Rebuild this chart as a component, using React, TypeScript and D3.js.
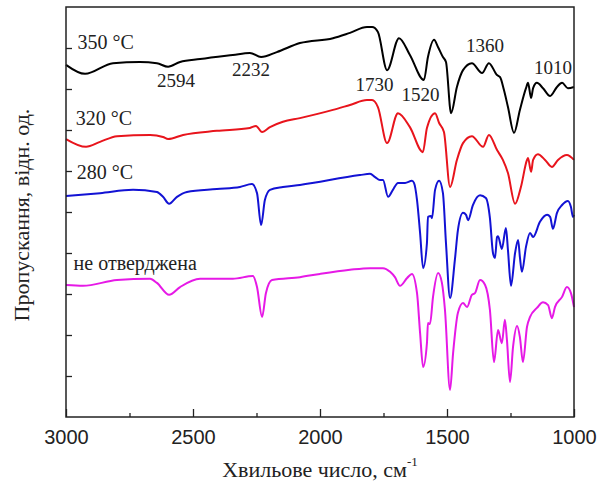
import { useEffect, useRef } from 'react';
import * as d3 from 'd3';

// wavenumber (cm-1) and transmittance in arbitrary units (0..100 over the frame)
const cured350 = [
  [3000, 85.9], [2925, 83.7], [2815, 86.3], [2709, 86.6], [2642, 86.3], [2598, 85.4],
  [2551, 86.6], [2472, 87.3], [2343, 88.3], [2276, 88.8], [2232, 87.8], [2170, 89.0],
  [2079, 91.2], [1949, 92.4], [1882, 93.7], [1815, 95.1], [1795, 95.1], [1772, 93.9],
  [1736, 84.6], [1689, 92.4], [1646, 88.3], [1591, 82.2], [1575, 87.8], [1551, 92.0],
  [1535, 90.2], [1516, 87.8], [1504, 86.6], [1484, 74.1], [1461, 80.5], [1437, 84.6],
  [1402, 86.3], [1362, 83.9], [1335, 86.3], [1303, 83.4], [1291, 82.9], [1276, 79.8],
  [1260, 75.6], [1236, 69.3], [1213, 74.9], [1189, 80.2], [1181, 81.5], [1169, 77.8],
  [1161, 80.2], [1146, 81.5], [1122, 80.2], [1094, 78.3], [1067, 80.5], [1047, 81.5],
  [1024, 80.2], [1000, 80.5],
];

const cured320 = [
  [3000, 67.8], [2921, 65.9], [2866, 67.1], [2799, 68.5], [2669, 68.8], [2618, 68.3],
  [2598, 67.8], [2539, 68.8], [2406, 69.8], [2276, 70.5], [2252, 71.0], [2228, 69.5],
  [2197, 70.7], [2146, 72.0], [2079, 72.9], [1949, 74.9], [1882, 76.1], [1815, 77.3],
  [1795, 77.3], [1772, 75.6], [1736, 66.8], [1693, 74.1], [1646, 70.7], [1595, 64.6],
  [1579, 70.5], [1547, 74.1], [1531, 71.7], [1512, 69.5], [1488, 56.1], [1461, 62.7],
  [1437, 66.8], [1402, 68.5], [1358, 65.9], [1335, 68.8], [1303, 65.1], [1280, 62.7],
  [1260, 59.5], [1232, 52.0], [1209, 56.1], [1185, 62.7], [1181, 63.2], [1169, 59.8],
  [1161, 62.7], [1142, 64.1], [1114, 62.7], [1087, 61.0], [1063, 62.7], [1028, 63.9],
  [1000, 62.7],
];

const cured280 = [
  [3000, 53.9], [2866, 54.6], [2736, 55.4], [2642, 54.9], [2618, 53.7], [2594, 52.0],
  [2563, 53.7], [2524, 54.9], [2406, 55.6], [2315, 56.1], [2268, 56.8], [2248, 54.6],
  [2232, 46.8], [2217, 52.9], [2197, 55.4], [2146, 56.1], [2079, 56.6], [1843, 59.0],
  [1803, 59.3], [1783, 58.5], [1764, 57.8], [1752, 57.8], [1732, 53.7], [1713, 55.4],
  [1693, 57.1], [1665, 57.1], [1638, 57.6], [1630, 57.1], [1618, 52.9], [1606, 44.9],
  [1594, 36.3], [1579, 42.4], [1575, 48.8], [1563, 49.0], [1559, 48.5], [1547, 55.4],
  [1531, 57.6], [1516, 54.6], [1504, 42.4], [1488, 29.0], [1469, 38.3], [1457, 45.6],
  [1437, 49.8], [1425, 49.3], [1417, 48.0], [1398, 51.7], [1370, 54.1], [1347, 53.4],
  [1331, 48.5], [1319, 40.0], [1311, 38.8], [1303, 43.9], [1299, 44.1], [1284, 41.0],
  [1268, 46.1], [1260, 40.7], [1248, 32.0], [1232, 40.0], [1220, 43.2], [1213, 39.0],
  [1205, 35.4], [1189, 41.5], [1173, 44.9], [1161, 43.9], [1134, 47.6], [1106, 49.3],
  [1094, 48.8], [1083, 45.9], [1067, 49.8], [1047, 51.7], [1024, 52.7], [1012, 51.2],
  [1004, 48.8], [1000, 49.3],
];

const uncured = [
  [3000, 32.2], [2933, 32.0], [2799, 33.4], [2669, 33.7], [2642, 32.7], [2594, 29.8],
  [2551, 31.7], [2472, 33.7], [2343, 33.7], [2264, 34.4], [2248, 31.7], [2228, 24.4],
  [2213, 30.2], [2189, 33.4], [2079, 34.1], [2000, 34.9], [1882, 35.9], [1803, 36.3],
  [1752, 36.3], [1724, 35.4], [1705, 34.1], [1685, 32.0], [1657, 33.9], [1638, 34.9],
  [1618, 30.2], [1606, 20.5], [1594, 12.2], [1579, 18.0], [1575, 22.9], [1567, 22.7],
  [1555, 29.3], [1535, 35.1], [1520, 32.7], [1508, 26.1], [1488, 6.6], [1476, 15.6],
  [1457, 25.4], [1437, 27.8], [1421, 26.8], [1402, 29.8], [1390, 30.2], [1370, 33.4],
  [1350, 32.2], [1331, 26.1], [1315, 13.4], [1299, 21.2], [1284, 18.0], [1272, 23.7],
  [1264, 18.8], [1252, 8.5], [1240, 17.1], [1224, 22.2], [1213, 19.5], [1201, 13.4],
  [1185, 22.0], [1173, 24.4], [1146, 26.6], [1122, 28.0], [1102, 27.3], [1087, 24.1],
  [1075, 26.8], [1047, 29.3], [1028, 31.7], [1012, 30.2], [1000, 26.8],
];

const seriesNames = ['350 °C', '320 °C', '280 °C', 'не отверджена'];
const seriesData = [cured350, cured320, cured280, uncured];
const seriesColors = ['#000000', '#e8141c', '#1212d4', '#e619e6'];
// where each curve's name sits, in data units
const seriesLabelPos = [[2955, 89.8], [2962, 71.2], [2958, 58.0], [2970, 35.8]];

const peakLabels = ['2594', '2232', '1730', '1520', '1360', '1010'];
const peakLabelPos = [[2567, 80.5], [2272, 83.2], [1785, 79.5], [1604, 77.1], [1350, 89.0], [1083, 83.7]];

const majorTicks = [3000, 2500, 2000, 1500, 1000];
const minorTicks = [2750, 2250, 1750, 1250];
const yTicks = [10, 20, 30, 40, 50, 60, 70, 80, 90];

const serif = '"Times New Roman", "Liberation Serif", serif';
const sans = 'Arial, "Liberation Sans", sans-serif';

const App = () => {
  const svgRef = useRef<SVGSVGElement | null>(null);
  const width = 598;
  const height = 493;
  const margin = { top: 7, right: 24, bottom: 76, left: 66 };

  useEffect(() => {
    const svg = d3.select(svgRef.current);
    svg.selectAll('*').remove();

    const innerWidth = width - margin.left - margin.right;
    const innerHeight = height - margin.top - margin.bottom;

    const x = d3.scaleLinear().domain([3000, 1000]).range([0, innerWidth]);
    const y = d3.scaleLinear().domain([0, 100]).range([innerHeight, 0]);

    const g = svg.append('g').attr('transform', `translate(${margin.left},${margin.top})`);

    // bottom axis, ticks pointing inwards
    const xAxis = g.append('g')
      .attr('transform', `translate(0,${innerHeight})`)
      .call(d3.axisBottom(x).tickValues(majorTicks).tickSizeInner(-8).tickSizeOuter(0).tickPadding(13).tickFormat(d3.format('d')));
    xAxis.select('.domain').remove();
    xAxis.selectAll('line').attr('stroke', '#222').attr('stroke-width', 1.3);
    xAxis.selectAll('text').attr('font-family', sans).attr('font-size', 20).attr('fill', '#222');

    const xMinor = g.append('g')
      .attr('transform', `translate(0,${innerHeight})`)
      .call(d3.axisBottom(x).tickValues(minorTicks).tickSizeInner(-4).tickSizeOuter(0).tickFormat(() => ''));
    xMinor.select('.domain').remove();
    xMinor.selectAll('line').attr('stroke', '#222').attr('stroke-width', 1.3);

    const yAxis = g.append('g')
      .call(d3.axisLeft(y).tickValues(yTicks).tickSizeInner(-6).tickSizeOuter(0).tickFormat(() => ''));
    yAxis.select('.domain').remove();
    yAxis.selectAll('line').attr('stroke', '#222').attr('stroke-width', 1.3);

    // spectra
    const line = d3.line<number[]>()
      .x(d => x(d[0]))
      .y(d => y(d[1]))
      .curve(d3.curveMonotoneX);

    seriesData.forEach((s, i) => {
      g.append('path')
        .datum(s)
        .attr('fill', 'none')
        .attr('stroke', seriesColors[i])
        .attr('stroke-width', 2)
        .attr('stroke-linejoin', 'round')
        .attr('d', line);

      g.append('text')
        .attr('x', x(seriesLabelPos[i][0]))
        .attr('y', y(seriesLabelPos[i][1]))
        .attr('font-family', serif)
        .attr('font-size', 20)
        .attr('fill', '#222')
        .text(seriesNames[i]);
    });

    peakLabels.forEach((t, i) => {
      g.append('text')
        .attr('x', x(peakLabelPos[i][0]))
        .attr('y', y(peakLabelPos[i][1]))
        .attr('text-anchor', 'middle')
        .attr('font-family', serif)
        .attr('font-size', 19)
        .attr('fill', '#222')
        .text(t);
    });

    // frame
    g.append('rect')
      .attr('width', innerWidth)
      .attr('height', innerHeight)
      .attr('fill', 'none')
      .attr('stroke', '#222')
      .attr('stroke-width', 1.5);

    // axis titles
    const xTitle = svg.append('text')
      .attr('x', margin.left + innerWidth / 2)
      .attr('y', 477)
      .attr('text-anchor', 'middle')
      .attr('font-family', serif)
      .attr('font-size', 22)
      .attr('fill', '#222');
    xTitle.append('tspan').text('Хвильове число, см');
    xTitle.append('tspan').attr('font-size', 13).attr('dy', -11).text('-1');

    svg.append('text')
      .attr('transform', `translate(29,${margin.top + innerHeight / 2 + 3}) rotate(-90)`)
      .attr('text-anchor', 'middle')
      .attr('font-family', serif)
      .attr('font-size', 22)
      .attr('fill', '#222')
      .text('Пропускання, відн. од.');
  }, []);

  return (
    <svg
      ref={svgRef}
      width={width}
      height={height}
      style={{ position: 'absolute', left: 0, top: 0, background: '#fff' }}
    />
  );
};

export default App;
